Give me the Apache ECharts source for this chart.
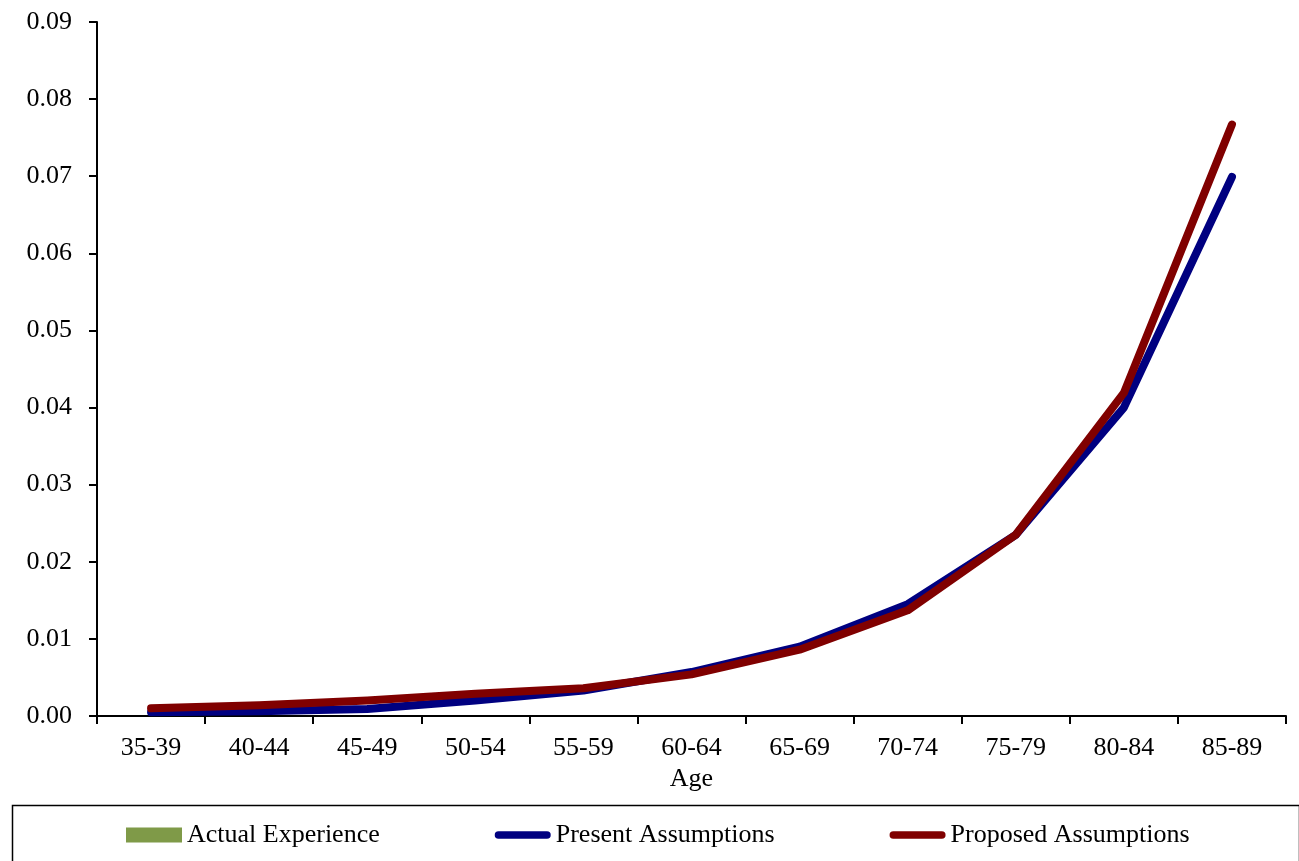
<!DOCTYPE html>
<html>
<head>
<meta charset="utf-8">
<title>Rates by Age</title>
<script src="https://cdn.jsdelivr.net/npm/echarts@6/dist/echarts.min.js"></script>
<style>
  html, body { margin: 0; padding: 0; background: #fff; }
  #chart { width: 1299px; height: 861px; }
</style>
</head>
<body>
<div id="chart"></div>
<script>
// Age bands on the category axis
const ageBands = ['35-39', '40-44', '45-49', '50-54', '55-59', '60-64', '65-69', '70-74', '75-79', '80-84', '85-89'];

// Rates per age band
const actualExperience = [];
const presentAssumptions = [0.0005, 0.0006, 0.0009, 0.0020, 0.0033, 0.0057, 0.0090, 0.0145, 0.0235, 0.0400, 0.0699];
const proposedAssumptions = [0.0010, 0.0014, 0.0020, 0.0029, 0.0036, 0.0054, 0.0086, 0.0137, 0.0235, 0.0419, 0.0767];

// Value axis range
const yMin = 0;
const yMax = 0.09;
const yStep = 0.01;

const serif = "'Liberation Serif', 'Times New Roman', serif";
// Rounded bar used as the legend marker of the line series (full 15px box, 8px visible band)
const lineIcon = 'path://M0,0M0,15M4,3.5H56A4,4 0 0 1 56,11.5H4A4,4 0 0 1 4,3.5Z';

const chart = echarts.init(document.getElementById('chart'), null, { renderer: 'canvas' });

chart.setOption({
  backgroundColor: '#ffffff',
  animation: false,
  grid: { left: 97, right: 13, top: 22, bottom: 145, containLabel: false },
  graphic: [{
    type: 'rect',
    left: 10,
    top: 803,
    shape: { width: 1287, height: 80 },
    style: { fill: 'none', stroke: '#000', lineWidth: 1.5 },
    silent: true
  }],
  legend: {
    left: 126,
    top: 822,
    padding: 0,
    itemGap: 115,
    itemWidth: 56,
    itemHeight: 15,
    textStyle: { fontFamily: serif, fontSize: 26, color: '#000' },
    data: [
      { name: 'Actual Experience', icon: 'rect' },
      { name: 'Present Assumptions', icon: lineIcon },
      { name: 'Proposed Assumptions', icon: lineIcon }
    ]
  },
  xAxis: {
    type: 'category',
    data: ageBands,
    boundaryGap: true,
    name: 'Age',
    nameLocation: 'middle',
    nameGap: 50,
    nameTextStyle: { fontFamily: serif, fontSize: 26, color: '#000' },
    axisLine: { lineStyle: { color: '#000', width: 2 } },
    axisTick: { show: true, inside: false, length: 8, lineStyle: { color: '#000', width: 2 } },
    axisLabel: { fontFamily: serif, fontSize: 26, color: '#000', margin: 19 },
    splitLine: { show: false }
  },
  yAxis: {
    type: 'value',
    min: yMin,
    max: yMax,
    interval: yStep,
    axisLine: { show: true, lineStyle: { color: '#000', width: 2 } },
    axisTick: { show: true, inside: false, length: 8, lineStyle: { color: '#000', width: 2 } },
    axisLabel: {
      fontFamily: serif, fontSize: 26, color: '#000', margin: 25,
      formatter: v => v.toFixed(2)
    },
    splitLine: { show: false }
  },
  series: [
    {
      name: 'Actual Experience',
      type: 'bar',
      data: actualExperience,
      itemStyle: { color: '#7F9A48' }
    },
    {
      name: 'Present Assumptions',
      type: 'line',
      data: presentAssumptions,
      symbol: 'none',
      color: '#000080',
      lineStyle: { color: '#000080', width: 8, cap: 'round', join: 'round' },
      z: 3
    },
    {
      name: 'Proposed Assumptions',
      type: 'line',
      data: proposedAssumptions,
      symbol: 'none',
      color: '#800000',
      lineStyle: { color: '#800000', width: 8, cap: 'round', join: 'round' },
      z: 4
    }
  ]
});
</script>
</body>
</html>
